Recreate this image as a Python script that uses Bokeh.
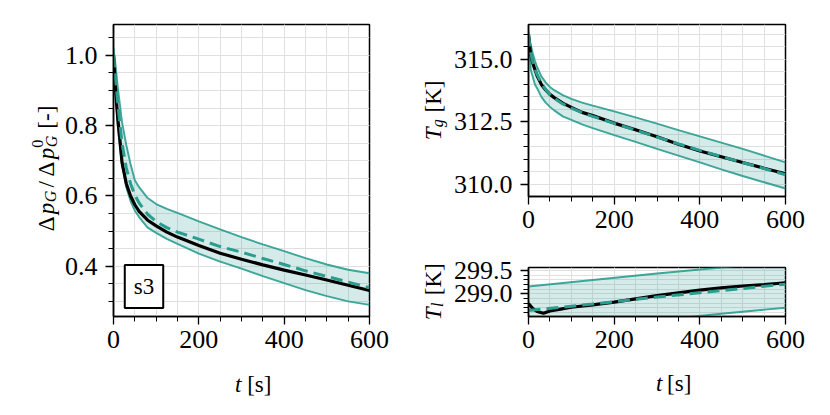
from math import pi
from bokeh.plotting import figure
from bokeh.models import Label, SingleIntervalTicker, PrintfTickFormatter, Range1d
from bokeh.layouts import row, column
from bokeh.embed import file_html
from bokeh.resources import INLINE

# ---------------- data ----------------
t = [0, 5, 10, 15, 20, 30, 40, 50, 60, 80, 100, 125, 150, 200, 250, 300, 350, 400, 450, 500, 550, 600]

dp_meas  = [1.0, 0.90, 0.82, 0.76, 0.695, 0.635, 0.600, 0.575, 0.556, 0.531, 0.515, 0.497, 0.483, 0.459, 0.437, 0.420, 0.404, 0.389, 0.375, 0.361, 0.346, 0.331]
dp_model = [1.0, 0.93, 0.865, 0.805, 0.75, 0.68, 0.635, 0.603, 0.580, 0.548, 0.527, 0.510, 0.497, 0.477, 0.456, 0.440, 0.422, 0.405, 0.387, 0.371, 0.355, 0.339]
dp_upper = [1.02, 0.97, 0.91, 0.86, 0.81, 0.745, 0.69, 0.645, 0.625, 0.594, 0.577, 0.563, 0.552, 0.528, 0.505, 0.483, 0.462, 0.443, 0.423, 0.405, 0.390, 0.380]
dp_lower = [1.0, 0.89, 0.80, 0.74, 0.69, 0.625, 0.585, 0.558, 0.540, 0.510, 0.495, 0.478, 0.464, 0.436, 0.413, 0.393, 0.372, 0.352, 0.332, 0.315, 0.300, 0.290]

tg_meas  = [316.0, 315.2, 314.85, 314.6, 314.35, 314.0, 313.78, 313.6, 313.47, 313.25, 313.08, 312.88, 312.75, 312.45, 312.18, 311.9, 311.6, 311.33, 311.1, 310.87, 310.64, 310.42]
tg_model = [316.0, 315.25, 314.9, 314.62, 314.4, 314.05, 313.8, 313.6, 313.45, 313.22, 313.05, 312.87, 312.72, 312.44, 312.17, 311.89, 311.62, 311.36, 311.11, 310.87, 310.63, 310.38]
tg_upper = [316.1, 315.6, 315.25, 314.95, 314.7, 314.32, 314.08, 313.9, 313.77, 313.57, 313.42, 313.27, 313.15, 312.92, 312.68, 312.43, 312.17, 311.92, 311.67, 311.42, 311.15, 310.88]
tg_lower = [316.0, 314.6, 314.3, 314.0, 313.85, 313.5, 313.27, 313.1, 312.96, 312.72, 312.58, 312.4, 312.25, 311.97, 311.7, 311.42, 311.15, 310.88, 310.6, 310.33, 310.08, 309.83]

t_lm = [0, 10, 20, 35, 50, 75, 100, 150, 200, 250, 300, 350, 400, 450, 500, 550, 600]
tl_meas = [298.79, 298.68, 298.62, 298.58, 298.63, 298.67, 298.71, 298.76, 298.82, 298.89, 298.96, 299.02, 299.08, 299.13, 299.17, 299.20, 299.24]
t_l = [0, 150, 300, 450, 600]
tl_model = [298.64, 298.78, 298.93, 299.07, 299.21]
tl_upper = [299.16, 299.30, 299.44, 299.57, 299.71]
tl_lower = [298.16, 298.30, 298.43, 298.57, 298.70]

panel_tag = "s3"

# ---------------- style ----------------
TEAL = "#2a9d8f"
GRID = "#e0e0e0"
FONT = "Liberation Serif"
TICK_SIZE = "26px"
LAB = 23
SUB = 16


def style(p, y_interval, y_minor, y_fmt):
    p.xaxis.ticker = SingleIntervalTicker(interval=200, num_minor_ticks=4)
    p.yaxis.ticker = SingleIntervalTicker(interval=y_interval, num_minor_ticks=y_minor)
    p.yaxis.formatter = PrintfTickFormatter(format=y_fmt)
    for ax in (p.xaxis, p.yaxis):
        ax.major_label_text_font = FONT
        ax.major_label_text_font_size = TICK_SIZE
        ax.major_label_text_color = "black"
        ax.axis_line_color = "black"
        ax.axis_line_width = 1.5
        ax.major_tick_line_color = "black"
        ax.minor_tick_line_color = "black"
        ax.major_tick_line_width = 1.3
        ax.minor_tick_line_width = 1.0
        ax.major_tick_in = 0
        ax.major_tick_out = 8
        ax.minor_tick_in = 0
        ax.minor_tick_out = 5
    p.xaxis.major_label_standoff = 6
    p.yaxis.major_label_standoff = 8
    for g in (p.xgrid, p.ygrid):
        g.grid_line_color = GRID
        g.grid_line_width = 1
        g.minor_grid_line_color = GRID
        g.minor_grid_line_width = 1
    p.outline_line_color = "black"
    p.outline_line_width = 1.5
    p.outline_line_alpha = 1
    p.background_fill_color = "white"
    p.border_fill_color = "white"


def draw(p, tt, meas, tb, model, upper, lower):
    p.varea(x=tb, y1=lower, y2=upper, fill_color=TEAL, fill_alpha=0.2)
    p.line(tb, upper, line_color=TEAL, line_width=1.9, line_alpha=0.9)
    p.line(tb, lower, line_color=TEAL, line_width=1.9, line_alpha=0.9)
    p.line(tt, meas, line_color="black", line_width=3.2)
    p.line(tb, model, line_color=TEAL, line_width=3, line_dash="12 6")


def label_fig(w, h):
    f = figure(width=w, height=h, x_range=Range1d(0, w), y_range=Range1d(0, h),
               output_backend="svg", toolbar_location=None, min_border=0,
               x_axis_location=None, y_axis_location=None)
    f.grid.visible = False
    f.outline_line_color = None
    f.background_fill_color = "white"
    f.border_fill_color = "white"
    return f


def piece(f, text, x, y, size, italic, angle, align):
    f.add_layout(Label(x=x, y=y, text=text, angle=angle, text_font=FONT, text_font_size=f"{size}px",
                       text_font_style="italic" if italic else "normal",
                       text_align=align, text_baseline="alphabetic", text_color="black"))


def vlabel(f, pieces, bx, by):
    # rotated (bottom-to-top) label; 'mid' = centre of the piece along the text direction,
    # perp > 0 shifts towards the baseline side (subscripts), < 0 towards superscripts
    for txt, mid, perp, sz, it in pieces:
        piece(f, txt, bx + perp, by + mid, sz, it, pi / 2, "center")


def hlabel(f, bx, by):
    piece(f, "t", bx, by, LAB, True, 0, "left")
    piece(f, "[s]", bx + 16, by, LAB, False, 0, "left")


common = dict(output_backend="svg", toolbar_location=None)

# ---------------- left panel ----------------
p1 = figure(width=339, height=366, x_range=Range1d(0, 600), y_range=Range1d(0.257, 1.088),
            min_border_left=49, min_border_right=31, min_border_top=24, min_border_bottom=50, **common)
style(p1, 0.2, 4, "%.1f")
draw(p1, t, dp_meas, t, dp_model, dp_upper, dp_lower)
p1.add_layout(Label(x=0, y=p1.y_range.start, x_offset=30.5, y_offset=30, text=panel_tag,
                    text_font=FONT, text_font_size=f"{LAB}px", text_align="center", text_baseline="middle",
                    text_color="black", border_line_color="black", border_line_width=2,
                    background_fill_color="white", background_fill_alpha=1, padding=9))

ylab1 = label_fig(61, 400)
vlabel(ylab1, [("Δ", 9.6, 0, LAB, False), ("p", 25, 0, LAB, True), ("G", 37.1, 4, SUB, True),
               ("/", 49.2, 0, LAB, False), ("Δ", 64.5, 0, LAB, False), ("p", 79.9, 0, LAB, True),
               ("G", 92, 5, SUB, True), ("0", 89.7, -9, SUB, False), ("[-]", 116.3, 0, LAB, False)],
       46, 400 - 233)
xlab1 = label_fig(339, 34)
hlabel(xlab1, 222 - 61, 16)

# ---------------- right top panel ----------------
p2 = figure(width=376, height=246, x_range=Range1d(0, 600), y_range=Range1d(309.51, 316.4),
            min_border_left=75, min_border_right=41, min_border_top=24, min_border_bottom=50, **common)
style(p2, 2.5, 5, "%.1f")
draw(p2, t, tg_meas, t, tg_model, tg_upper, tg_lower)

# ---------------- right bottom panel ----------------
p3 = figure(width=376, height=120, x_range=Range1d(0, 600), y_range=Range1d(298.51, 299.57),
            min_border_left=75, min_border_right=41, min_border_top=21, min_border_bottom=50, **common)
style(p3, 0.5, 5, "%.1f")
draw(p3, t_lm, tl_meas, t_l, tl_model, tl_upper, tl_lower)

ylab2 = label_fig(50, 400)
vlabel(ylab2, [("T", 6.7, 0, LAB, True), ("g", 17.2, 3.5, SUB, True), ("[K]", 44, 0, LAB, False)],
       33, 400 - 140)
vlabel(ylab2, [("T", 6.7, 0, LAB, True), ("l", 15.8, 3.5, SUB, True), ("[K]", 41.2, 0, LAB, False)],
       33, 400 - 320)
xlab3 = label_fig(376, 34)
hlabel(xlab3, 636.7 - 450, 17)

layout = row(ylab1, column(p1, xlab1, spacing=0), ylab2, column(p2, p3, xlab3, spacing=0), spacing=0)
open("out.html", "w").write(file_html(layout, INLINE))
